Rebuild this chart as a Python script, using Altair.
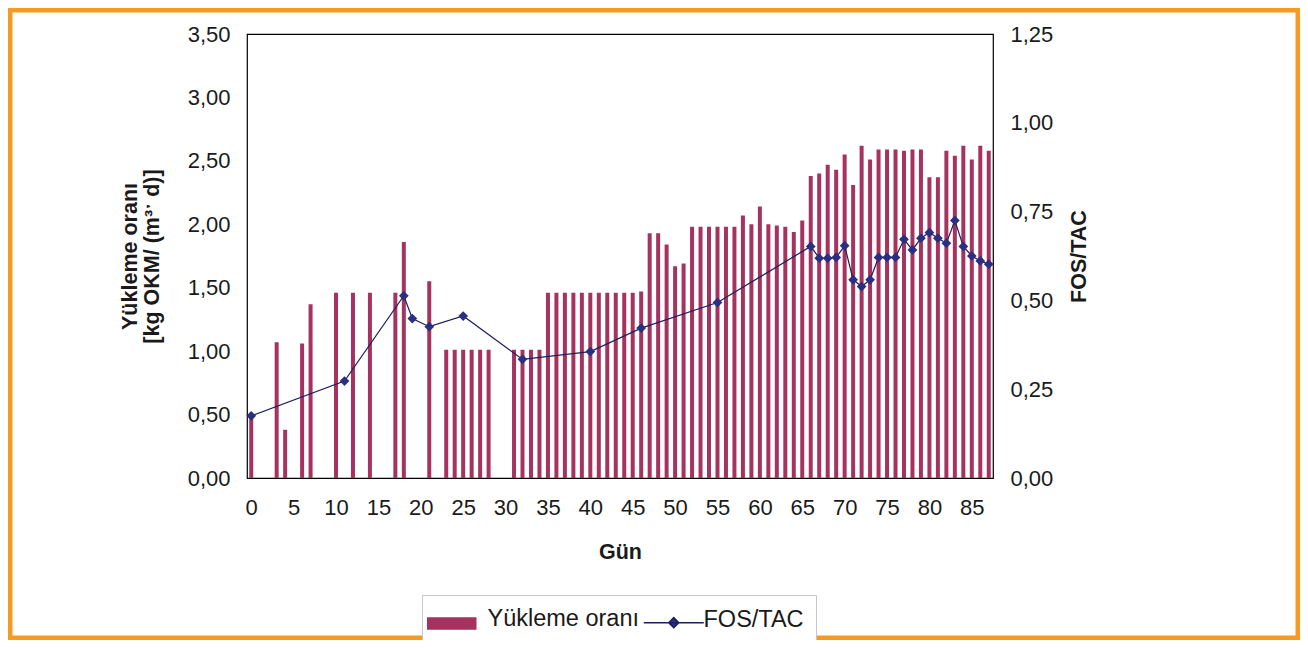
import altair as alt
import pandas as pd

# ---- data ----
bar_days = [0, 3, 4, 6, 7, 10, 12, 14, 17, 18, 21, 23, 24, 25, 26, 27, 28,
            31, 32, 33, 34, 35, 36, 37, 38, 39, 40, 41, 42, 43, 44, 45, 46,
            47, 48, 49, 50, 51, 52, 53, 54, 55, 56, 57, 58, 59, 60, 61, 62,
            63, 64, 65, 66, 67, 68, 69, 70, 71, 72, 73, 74, 75, 76, 77, 78,
            79, 80, 81, 82, 83, 84, 85, 86, 87]
load_rate = [0.49, 1.07, 0.38, 1.06, 1.37, 1.46, 1.46, 1.46, 1.46, 1.86, 1.55,
             1.01, 1.01, 1.01, 1.01, 1.01, 1.01,
             1.01, 1.01, 1.01, 1.01,
             1.46, 1.46, 1.46, 1.46, 1.46, 1.46, 1.46, 1.46, 1.46, 1.46, 1.46,
             1.47, 1.93, 1.93, 1.84, 1.67, 1.69,
             1.98, 1.98, 1.98, 1.98, 1.98, 1.98,
             2.07, 2.00, 2.14, 2.00, 1.99, 1.98, 1.94, 2.03, 2.38, 2.40,
             2.47, 2.43, 2.55, 2.31, 2.62, 2.51, 2.59, 2.59, 2.59, 2.58,
             2.59, 2.59, 2.37, 2.37, 2.58, 2.54, 2.62, 2.51, 2.62, 2.58]

fos_days = [0, 11, 18, 19, 21, 25, 32, 40, 46, 55, 66, 67, 68, 69, 70, 71,
            72, 73, 74, 75, 76, 77, 78, 79, 80, 81, 82, 83, 84, 85, 86, 87]
fos_tac = [0.175, 0.273, 0.513, 0.449, 0.426, 0.456, 0.334, 0.356, 0.422,
           0.494, 0.652, 0.619, 0.619, 0.621, 0.654, 0.558, 0.539, 0.558,
           0.621, 0.621, 0.621, 0.672, 0.642, 0.675, 0.691, 0.675, 0.661,
           0.725, 0.652, 0.625, 0.611, 0.602]

x_ticks = [0, 5, 10, 15, 20, 25, 30, 35, 40, 45, 50, 55, 60, 65, 70, 75, 80, 85]
left_ticks = [0, 0.5, 1.0, 1.5, 2.0, 2.5, 3.0, 3.5]
right_ticks = [0, 0.25, 0.5, 0.75, 1.0, 1.25]
series_names = ["Yükleme oranı", "FOS/TAC"]

BAR_COLOR = "#A5325F"
LINE_COLOR = "#1E1E5C"
MARKER_COLOR = "#2B2F82"
ORANGE = "#F69A22"
FONT = "Liberation Sans"
TXT = "#1a1a1a"

# legend swatches (symbol size 100 -> 1 unit = 5 px); slot is 60 px wide
BAR_SWATCH = "M-7.2,-0.2L2.4,-0.2L2.4,2L-7.2,2Z"
LINE_SWATCH = "M-7.2,0.6L4.8,0.6M-1.2,-0.4L-0.2,0.6L-1.2,1.6L-2.2,0.6Z"

bar_df = pd.DataFrame({"day": bar_days, "load": load_rate})
fos_df = pd.DataFrame({"day": fos_days, "fos": fos_tac})
legend_df = pd.DataFrame({"series": series_names})

comma_fmt = "replace(format(datum.value, '.2f'), '.', ',')"

x_axis = alt.Axis(values=x_ticks, title="Gün", grid=False, ticks=False,
                  tickSize=0, domain=False, labelPadding=19, titlePadding=23,
                  labelFontSize=22, titleFontSize=21.5, labelFlush=False)
x_enc = alt.X("day:Q", scale=alt.Scale(domain=[-0.5, 87.5], nice=False,
                                       zero=False, padding=0),
              axis=x_axis)

legend = alt.Legend(
    orient="none", legendX=175, legendY=561, direction="horizontal",
    title=None, labelFont=FONT, labelFontSize=23.5, labelColor=TXT,
    symbolSize=100, symbolStrokeWidth=1.5, symbolOpacity=1,
    symbolOffset=18, labelOffset=12, columnPadding=0, padding=12,
    strokeColor="#c8c8c8", fillColor="white",
)

bars = alt.Chart(bar_df).mark_bar(size=4, color=BAR_COLOR).encode(
    x=x_enc,
    y=alt.Y("load:Q", scale=alt.Scale(domain=[0, 3.5], nice=False, zero=True),
            axis=alt.Axis(orient="left", values=left_ticks, labelExpr=comma_fmt,
                          title=["Yükleme oranı", "[kg OKM/ (m³ˑ d)]"],
                          grid=False, ticks=False, tickSize=0, domain=False,
                          labelPadding=17, titlePadding=24, titleLineHeight=22,
                          labelFontSize=22, titleFontSize=21.5)),
)

right_axis = alt.Axis(orient="right", values=right_ticks, labelExpr=comma_fmt,
                      title="FOS/TAC", grid=False, ticks=False, tickSize=0,
                      domain=False, labelPadding=17, titlePadding=16,
                      titleAngle=270, titleBaseline="top",
                      labelFontSize=22, titleFontSize=21.5)
y_right = alt.Y("fos:Q", scale=alt.Scale(domain=[0, 1.25], nice=False),
                axis=right_axis)

line = alt.Chart(fos_df).mark_line(strokeWidth=1.2, color=LINE_COLOR).encode(
    x=x_enc, y=y_right,
)
points = alt.Chart(fos_df).mark_point(shape="diamond", filled=True, size=95,
                                      opacity=1, color=MARKER_COLOR).encode(
    x=x_enc, y=y_right,
)

# legend-only layer (drawn off-canvas); the legend itself comes from its scales
legend_layer = alt.Chart(legend_df).mark_point(filled=True, size=100,
                                               strokeWidth=1.5, opacity=1).encode(
    x=alt.value(-3000), y=alt.value(-3000),
    color=alt.Color("series:N", scale=alt.Scale(domain=series_names,
                    range=[BAR_COLOR, MARKER_COLOR]), legend=legend),
    stroke=alt.Stroke("series:N", scale=alt.Scale(domain=series_names,
                      range=[BAR_COLOR, LINE_COLOR]), legend=legend),
    shape=alt.Shape("series:N", scale=alt.Scale(domain=series_names,
                    range=[BAR_SWATCH, LINE_SWATCH]), legend=legend),
)

frame = alt.Chart(pd.DataFrame({"k": [0]})).mark_rect(
    fillOpacity=0, stroke=ORANGE, strokeWidth=9).encode(
    x=alt.value(-239), x2=alt.value(1053), y=alt.value(-26), y2=alt.value(606))

chart = alt.layer(bars, alt.layer(line, points), legend_layer, frame).resolve_scale(
    y="independent"
).properties(
    width=746, height=444,
    padding={"left": 239, "top": 26, "right": 307, "bottom": 162},
    autosize=alt.AutoSizeParams(type="none"),
    background="white",
).configure_view(
    stroke="#000000", strokeWidth=1.2
).configure_axis(
    labelFont=FONT, titleFont=FONT, labelColor=TXT, titleColor=TXT,
    titleFontWeight="bold"
)

chart.save("out.html", embed_options={"renderer": "svg", "actions": False})
